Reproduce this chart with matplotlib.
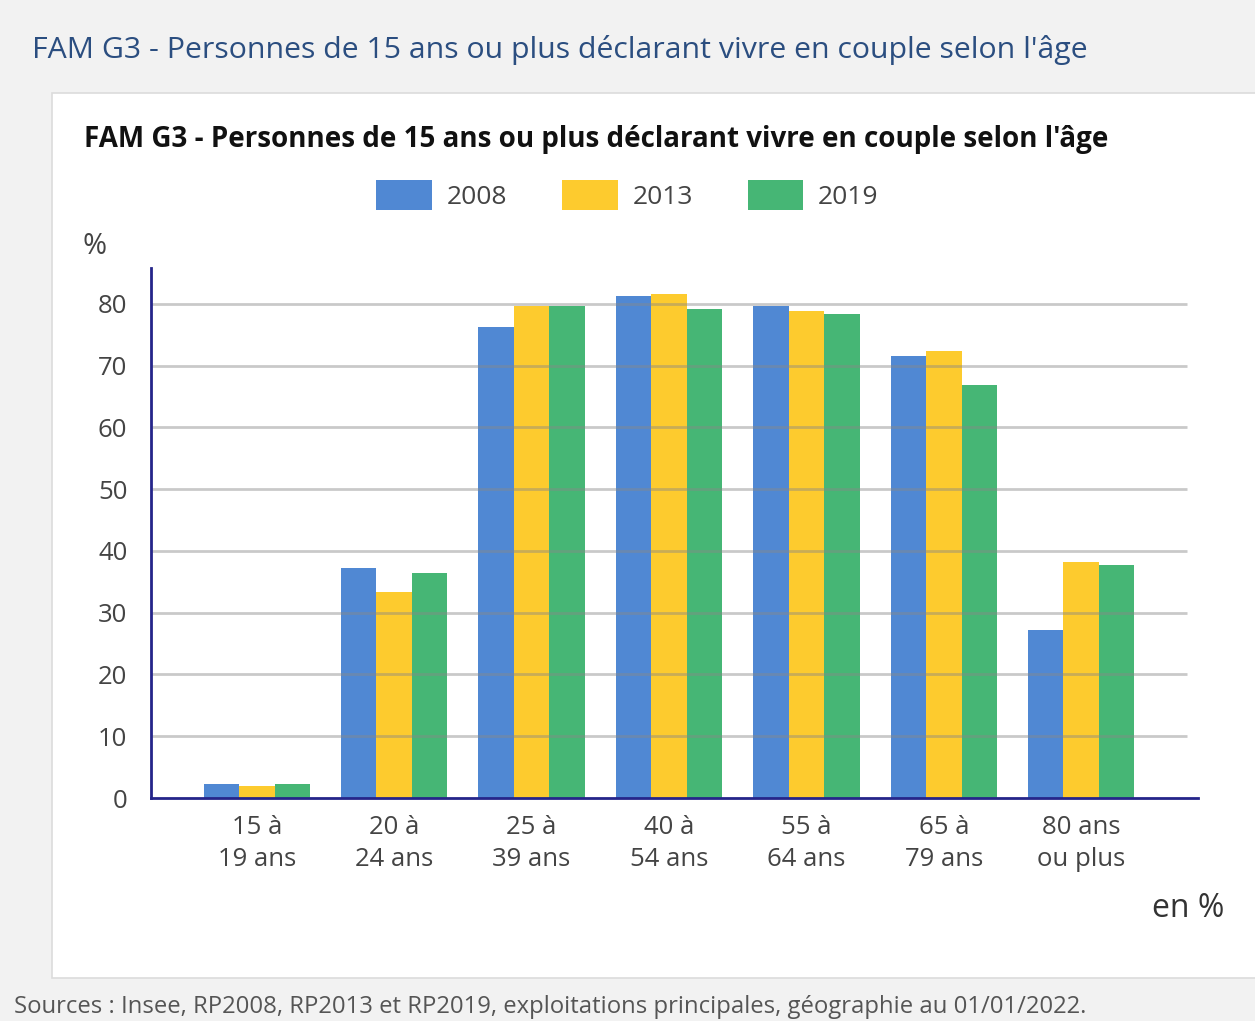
import numpy as np
import matplotlib.pyplot as plt
from matplotlib.patches import Rectangle

plt.rcParams['font.family'] = ['Open Sans', 'DejaVu Sans']

# Data
categories = ['15 à\n19 ans', '20 à\n24 ans', '25 à\n39 ans', '40 à\n54 ans',
              '55 à\n64 ans', '65 à\n79 ans', '80 ans\nou plus']
years = ['2008', '2013', '2019']
v2008 = [2.3, 37.3, 76.2, 81.3, 79.6, 71.5, 27.2]
v2013 = [1.9, 33.3, 79.6, 81.6, 78.8, 72.3, 38.2]
v2019 = [2.3, 36.5, 79.6, 79.1, 78.4, 66.9, 37.8]
colors = ['#5088d3', '#fdcb2e', '#46b675']

fig = plt.figure(figsize=(12.55, 10.21), dpi=100)
fig.patch.set_facecolor('#f2f2f2')

# white panel behind the chart
fig.patches.append(Rectangle((52 / 1255, 1 - 978 / 1021), 1.0, (978 - 93) / 1021,
                             transform=fig.transFigure, facecolor='white',
                             edgecolor='#dcdcdc', linewidth=1.2, zorder=-5))

ax = fig.add_axes([151 / 1255, 1 - 798 / 1021, (1198 - 151) / 1255, (798 - 268) / 1021])
ax.set_facecolor('none')
ax.set_zorder(2)

x = np.arange(len(categories))
w = 0.258
for i, (vals, lab) in enumerate(zip([v2008, v2013, v2019], years)):
    ax.bar(x + (i - 1) * w, vals, width=w, color=colors[i], label=lab, zorder=2)

ax.set_xlim(-0.77, 6.85)
ax.set_ylim(0, 85.8)
ax.set_yticks(range(0, 81, 10))
ax.hlines(range(10, 81, 10), -0.77, 6.77, color='#888888', alpha=0.45, linewidth=2, zorder=3)

for s in ['top', 'right']:
    ax.spines[s].set_visible(False)
for s in ['left', 'bottom']:
    ax.spines[s].set_color('#25258a')
    ax.spines[s].set_linewidth(2)
    ax.spines[s].set_zorder(4)

ax.set_xticks(x)
ax.set_xticklabels(categories, fontsize=18.5, color='#444444', linespacing=1.38)
ax.tick_params(axis='y', labelsize=18.5, labelcolor='#444444', length=0, pad=17)
ax.tick_params(axis='x', length=0, pad=12)

ax.text(-0.042, 1.04, '%', transform=ax.transAxes, fontsize=21, color='#444444',
        ha='right', va='center')

leg = fig.legend(loc='center', bbox_to_anchor=(0.5, 1 - 195 / 1021), ncol=3, frameon=False,
                 fontsize=19, handlelength=2.1, handleheight=1.4, columnspacing=2.1,
                 handletextpad=0.55)
for t in leg.get_texts():
    t.set_color('#444444')

# titles and notes
fig.text(84 / 1255, 1 - 140 / 1021, "FAM G3 - Personnes de 15 ans ou plus déclarant vivre en couple selon l'âge",
         fontsize=20, fontweight='bold', color='#111111', va='center', ha='left')
fig.text(32 / 1255, 1 - 50 / 1021, "FAM G3 - Personnes de 15 ans ou plus déclarant vivre en couple selon l'âge",
         fontsize=21.8, color='#2b4e80', va='center', ha='left')
fig.text(1224 / 1255, 1 - 908 / 1021, 'en %', fontsize=23, color='#333333', va='center', ha='right')
fig.text(14 / 1255, 1 - 1007 / 1021,
         'Sources : Insee, RP2008, RP2013 et RP2019, exploitations principales, géographie au 01/01/2022.',
         fontsize=17.2, color='#555555', va='center', ha='left')

fig.savefig('out.png', dpi=100, facecolor=fig.get_facecolor())
